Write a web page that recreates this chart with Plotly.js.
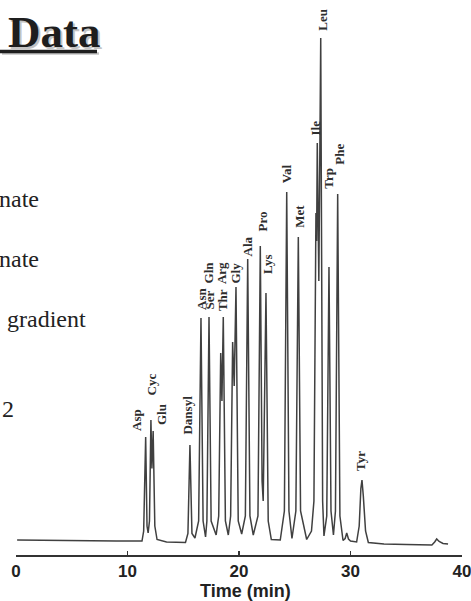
<!DOCTYPE html>
<html>
<head>
<meta charset="utf-8">
<script src="https://cdn.plot.ly/plotly-3.0.1.min.js"></script>
<style>
html,body{margin:0;padding:0;background:#fff;}
#chart{width:471px;height:601px;}
</style>
</head>
<body>
<div id="chart"></div>
<script>
// Chromatogram trace: retention time (min) and detector response (a.u.)
const timeMin = [
  0.1, 3, 6, 9, 11.3,
  11.45, 11.63, 11.75, 11.85,
  11.97, 12.10, 12.19, 12.30, 12.45, 12.65,
  13.5, 15.2,
  15.42, 15.60, 15.78, 16.05,
  16.38, 16.59, 16.78, 17.0,
  17.12, 17.31, 17.5, 17.95,
  18.18, 18.36, 18.47, 18.59, 18.78, 19.04,
  19.25, 19.43, 19.57, 19.73, 19.93, 20.24,
  20.57, 20.78, 20.98, 21.28,
  21.7, 21.91, 22.07, 22.17, 22.42, 22.62, 22.9,
  23.7,
  24.07, 24.28, 24.48, 24.75,
  25.1, 25.32, 25.52, 26.07,
  26.5, 26.72, 26.9, 26.96, 27.02, 27.16, 27.33, 27.5, 27.62,
  27.87, 28.07, 28.25, 28.47,
  28.65, 28.85, 29.05, 29.33,
  29.52, 29.66, 29.82, 30.0,
  30.55,
  30.78, 30.93, 31.03, 31.15, 31.35, 31.6,
  33, 35, 37.3,
  37.55, 37.73, 37.95, 38.3, 38.75
];
const response = [
  0.2, 0.1, 0.1, 0.0, 0.0,
  2.0, 20.8, 3.0, 1.6,
  4.0, 24.2, 14.5, 22.0, 3.0, 0.3,
  -0.2, -0.3,
  1.5, 19.2, 1.5, 0.6,
  4.0, 44.6, 4.0, 0.8,
  4.0, 44.8, 4.0, 1.2,
  5.0, 37.6, 28.0, 44.8, 4.0, 1.2,
  5.0, 39.8, 31.0, 50.8, 4.0, 1.4,
  5.0, 56.4, 5.0, 1.2,
  5.0, 59.0, 12.0, 8.0, 49.6, 4.0, 0.3,
  0.2,
  6.0, 69.8, 6.0, 0.5,
  6.0, 60.8, 6.0, 0.3,
  2.0, 8.0, 65.6, 60.0, 79.6, 52.0, 100.6, 8.0, 1.0,
  5.0, 54.8, 6.0, 1.2,
  6.0, 69.4, 5.0, 0.1,
  0.5, 1.6, 0.4, 0.0,
  -0.2,
  3.0, 10.5, 12.2, 9.0, 2.0, -0.3,
  -0.6, -0.7, -0.8,
  -0.2, 0.4, -0.1, -0.5, -0.6
];

// Peak labels (amino acids) and where they sit (time, response at label foot)
const peakNames  = ["Asp","Cyc","Glu","Dansyl","Asn","Gln","Ser","Arg","Thr","Gly","Ala","Pro","Lys","Val","Met","Ile","Leu","Trp","Phe","Tyr"];
const labelTimes = [10.76, 12.15, 13.05, 15.34, 16.59, 17.26, 17.31, 18.39, 18.48, 19.73, 20.76, 22.02, 22.51, 24.28, 25.41, 26.82, 27.42, 28.01, 28.99, 30.85];
const labelResp  = [21.6, 28.8, 22.8, 20.8, 45.8, 51.2, 45.8, 51.0, 45.6, 51.2, 56.6, 61.4, 53.0, 71.2, 62.2, 80.6, 101.6, 70.0, 74.8, 13.6];

// Axis ticks and titles
const xTicks = [0, 10, 20, 30, 40];
const xTitle = "Time (min)";
const slideTitle = "Data";
const sideText = ["nate", "nate", "gradient", "2"];

// ---- layout helpers (pixel -> paper) ----
const L = 16, R = 9, T = 30, B = 46, W = 471, H = 601;
const PW = W - L - R, PH = H - T - B;
const px = x => (x - L) / PW;
const py = y => (H - B - y) / PH;

const annotations = [];
peakNames.forEach((n, i) => {
  annotations.push({
    text: n, x: labelTimes[i], y: labelResp[i], xref: 'x', yref: 'y',
    xanchor: 'center', yanchor: 'bottom', textangle: -90, showarrow: false,
    font: {family: 'Liberation Serif, Times New Roman, serif', size: 13, color: '#2e2e2e', weight: 'bold'}
  });
});
annotations.push({
  text: xTitle, x: px(245), y: py(591), xref: 'paper', yref: 'paper',
  xanchor: 'center', yanchor: 'middle', showarrow: false,
  font: {family: 'Liberation Sans, Arial, sans-serif', size: 18, color: '#222', weight: 'bold'}
});
// slide heading with shadow
annotations.push({
  text: slideTitle, x: px(6), y: py(32), xref: 'paper', yref: 'paper',
  xanchor: 'left', yanchor: 'middle', showarrow: false,
  font: {family: 'Liberation Serif, Times New Roman, serif', size: 45, color: '#1e1e1e', weight: 'bold',
         shadow: '2px 2px 0px #c4c4c4'}
});
const sideY = [199, 259, 319, 409];
const sideX = [-3, -3, 5, 0];
sideText.forEach((s, i) => {
  annotations.push({
    text: s, x: px(sideX[i]), y: py(sideY[i]), xref: 'paper', yref: 'paper',
    xanchor: 'left', yanchor: 'middle', showarrow: false,
    font: {family: 'Liberation Serif, Times New Roman, serif', size: 24, color: '#222'}
  });
});

const shapes = [
  {type: 'line', xref: 'paper', yref: 'paper', x0: px(2), x1: px(99), y0: py(53.5), y1: py(53.5),
   line: {color: '#c4c4c4', width: 2.5}},
  {type: 'line', xref: 'paper', yref: 'paper', x0: px(0), x1: px(97), y0: py(51.5), y1: py(51.5),
   line: {color: '#1e1e1e', width: 3.5}}
];

const trace = {
  x: timeMin, y: response, type: 'scatter', mode: 'lines',
  line: {color: '#404040', width: 1.5}, hoverinfo: 'skip'
};

const layout = {
  width: W, height: H,
  margin: {l: L, r: R, t: T, b: B, pad: 0},
  paper_bgcolor: '#fff', plot_bgcolor: '#fff',
  showlegend: false,
  xaxis: {
    range: [0, 40], tickvals: xTicks, ticktext: xTicks.map(String),
    ticks: 'inside', ticklen: 4, tickwidth: 1.5, tickcolor: '#333',
    showline: true, linecolor: '#333', linewidth: 1.5,
    showgrid: false, zeroline: false,
    tickfont: {family: 'Liberation Sans, Arial, sans-serif', size: 17, color: '#222', weight: 'bold'},
    ticklabelstandoff: 0, ticklabeloverflow: 'allow'
  },
  yaxis: {range: [-2.8, 102.2], visible: false, showgrid: false, zeroline: false},
  annotations: annotations,
  shapes: shapes
};

Plotly.newPlot('chart', [trace], layout, {displayModeBar: false, staticPlot: true});
</script>
</body>
</html>
